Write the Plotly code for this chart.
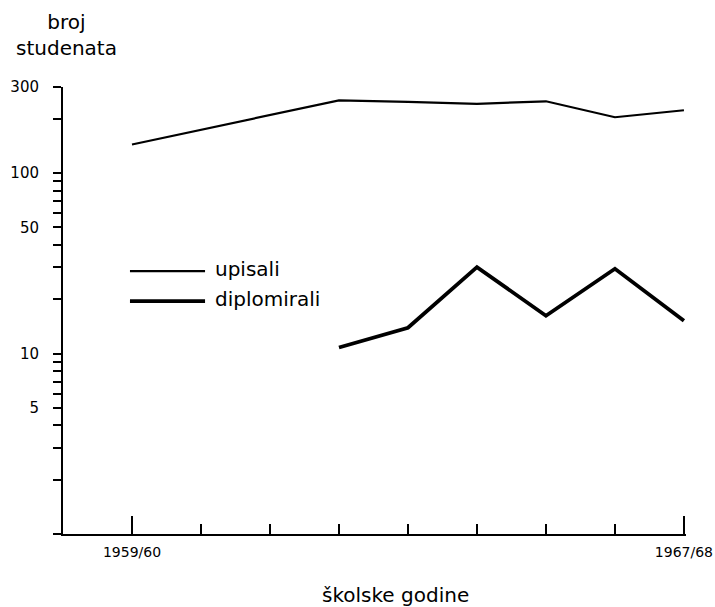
import plotly.graph_objects as go

years = ["1959/60", "1960/61", "1961/62", "1962/63", "1963/64",
         "1964/65", "1965/66", "1966/67", "1967/68"]
upisali = [144, 174, 211, 253, 248, 242, 250, 204, 223]
dipl_years = years[3:]
diplomirali = [10.8, 13.9, 30.1, 16.2, 29.5, 15.2]

y_tickvals = [1, 2, 3, 4, 5, 6, 7, 8, 9, 10, 20, 30, 40, 50, 60, 70, 80, 90, 100, 200, 300]
y_labels = {5: "5", 10: "10", 50: "50", 100: "100", 300: "300"}
y_ticktext = [y_labels.get(v, "") for v in y_tickvals]
x_labels = {"1959/60": "1959/60", "1967/68": "1967/68"}

xi = list(range(len(years)))
xi_d = [years.index(y) for y in dipl_years]

fig = go.Figure()
fig.add_trace(go.Scatter(x=xi, y=upisali, mode="lines",
                         line=dict(color="black", width=2.2), name="upisali",
                         showlegend=False))
fig.add_trace(go.Scatter(x=xi_d, y=diplomirali, mode="lines",
                         line=dict(color="black", width=3.8), name="diplomirali",
                         showlegend=False))

major_x = [years.index(k) for k in x_labels]
fig.update_layout(
    width=715, height=607,
    margin=dict(l=63, r=29, t=87, b=73),
    paper_bgcolor="white", plot_bgcolor="white",
    font=dict(family="DejaVu Sans", color="black"),
    xaxis=dict(
        range=[-1, len(years) - 1 + 0.03], automargin=False,
        showgrid=False, zeroline=False,
        showline=True, linecolor="black", linewidth=2,
        tickmode="array", tickvals=major_x, ticktext=list(x_labels.values()),
        ticks="inside", ticklen=18, tickwidth=2, tickcolor="black",
        ticklabelstandoff=4,
        tickfont=dict(size=14, family="DejaVu Sans"),
        minor=dict(tickmode="array", tickvals=[i for i in xi if i not in major_x],
                   ticks="inside", ticklen=10, tickwidth=2, tickcolor="black",
                   showgrid=False),
    ),
    yaxis=dict(
        type="log", range=[0, 2.4771], automargin=False,
        showgrid=False, zeroline=False,
        showline=True, linecolor="black", linewidth=2,
        tickmode="array", tickvals=y_tickvals, ticktext=y_ticktext,
        ticks="outside", ticklen=8, tickwidth=1.6, tickcolor="black",
        ticklabelstandoff=11,
        tickfont=dict(size=15, family="DejaVu Sans"),
    ),
)

# legend drawn manually
leg = [("upisali", 0.588, 0.593, 2.2), ("diplomirali", 0.521, 0.526, 3.8)]
for name, ly, ty, w in leg:
    fig.add_shape(type="line", xref="paper", yref="paper",
                  x0=0.1075, x1=0.228, y0=ly, y1=ly,
                  line=dict(color="black", width=w))
    fig.add_annotation(text=name, xref="paper", yref="paper", x=0.2405, y=ty,
                       xanchor="left", yanchor="middle", showarrow=False,
                       font=dict(size=20, family="DejaVu Sans"))

fig.add_annotation(text="broj<br>studenata", xref="paper", yref="paper",
                   x=0.0064, y=1.116, xanchor="center", yanchor="middle",
                   align="center", showarrow=False,
                   font=dict(size=20, family="DejaVu Sans"))
fig.add_annotation(text="školske godine", xref="paper", yref="paper",
                   x=0.533, y=-0.1365, xanchor="center", yanchor="middle",
                   showarrow=False, font=dict(size=20, family="DejaVu Sans"))

fig.write_html("out.html", config={"displayModeBar": False},
               post_script="document.body.style.margin='0';")
